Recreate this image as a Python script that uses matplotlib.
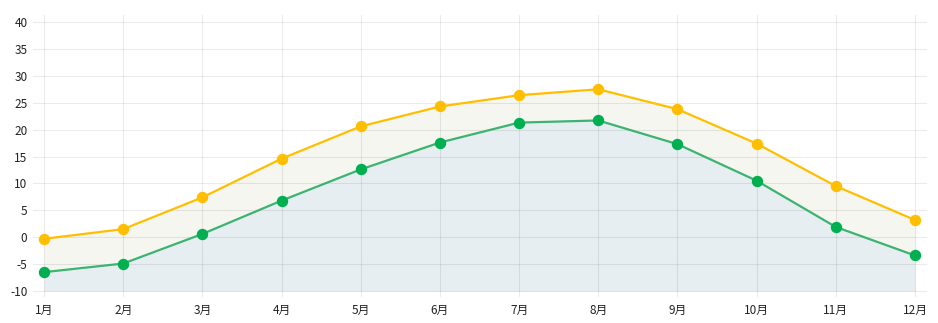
import matplotlib
matplotlib.use("Agg")
import matplotlib.pyplot as plt

plt.rcParams['font.family'] = ['Noto Sans CJK SC', 'DejaVu Sans']

months = ['1月', '2月', '3月', '4月', '5月', '6月', '7月', '8月', '9月', '10月', '11月', '12月']
high_temp = [-0.3, 1.5, 7.4, 14.6, 20.6, 24.3, 26.4, 27.5, 23.8, 17.4, 9.5, 3.2]
low_temp = [-6.5, -4.9, 0.6, 6.8, 12.6, 17.6, 21.3, 21.7, 17.3, 10.5, 1.9, -3.4]
y_ticks = [-10, -5, 0, 5, 10, 15, 20, 25, 30, 35, 40]

x = list(range(1, len(months) + 1))

fig = plt.figure(figsize=(9.38, 3.23), dpi=100)
ax = fig.add_axes([33 / 938, 26 / 323, 894 / 938, 282 / 323])

ax.fill_between(x, low_temp, high_temp, color='#f5f6f0', lw=0, zorder=1)
ax.fill_between(x, -10, low_temp, color='#e7eef2', lw=0, zorder=1)

ax.plot(x, high_temp, color='#ffbf00', lw=1.6, marker='o', ms=7.2,
        mfc='#ffbf00', mec='#ffbf00', zorder=4)
ax.plot(x, low_temp, color='#3cb371', lw=1.6, marker='o', ms=7.2,
        mfc='#00b050', mec='#00b050', zorder=4)

ax.set_xlim(1 - 11 / 79, 12 + 12 / 79)
ax.set_ylim(-10 - 6 / 5.36, 40 + 7 / 5.36)
ax.set_xticks(x)
ax.set_xticklabels(months)
ax.set_yticks(y_ticks)
ax.set_yticklabels([str(v) for v in y_ticks])

# grid sits above the fills so it shows through them
ax.grid(True, color='black', alpha=0.08, lw=0.8, zorder=2)
ax.set_axisbelow(False)
for s in ax.spines.values():
    s.set_visible(False)
ax.tick_params(length=0, labelsize=8.5, colors='#222222')
ax.tick_params(axis='x', pad=5)
ax.tick_params(axis='y', pad=4)

fig.savefig('out.png', dpi=100)
